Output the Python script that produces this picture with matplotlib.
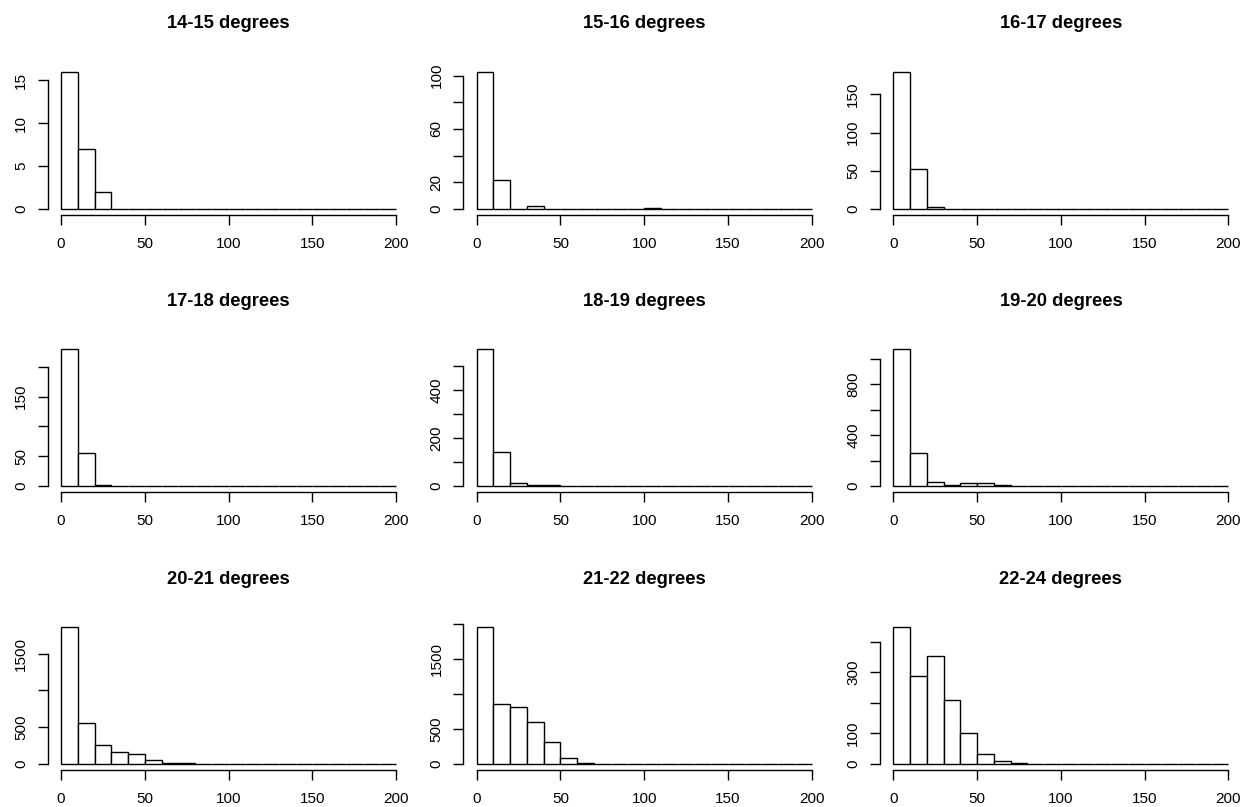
import numpy as np
import matplotlib
matplotlib.use("Agg")
from matplotlib import pyplot as plt

plt.rcParams['font.family'] = ['Liberation Sans', 'DejaVu Sans']

# histogram bins: 0-200 in steps of 10
bin_edges = np.arange(0, 201, 10)

titles = ["14-15 degrees", "15-16 degrees", "16-17 degrees",
          "17-18 degrees", "18-19 degrees", "19-20 degrees",
          "20-21 degrees", "21-22 degrees", "22-24 degrees"]

# counts per bin
c_14_15 = [16, 7, 2, 0, 0, 0, 0, 0, 0, 0, 0, 0, 0, 0, 0, 0, 0, 0, 0, 0]
c_15_16 = [103, 22, 0, 2, 0, 0, 0, 0, 0, 0, 1, 0, 0, 0, 0, 0, 0, 0, 0, 0]
c_16_17 = [180, 52, 2, 0, 0, 0, 0, 0, 0, 0, 0, 0, 0, 0, 0, 0, 0, 0, 0, 0]
c_17_18 = [231, 56, 2, 0, 0, 0, 0, 0, 0, 0, 0, 0, 0, 0, 0, 0, 0, 0, 0, 0]
c_18_19 = [572, 143, 11, 5, 5, 0, 0, 0, 0, 0, 0, 0, 0, 0, 0, 0, 0, 0, 0, 0]
c_19_20 = [1079, 262, 34, 10, 21, 21, 10, 0, 0, 0, 0, 0, 0, 0, 0, 0, 0, 0, 0, 0]
c_20_21 = [1867, 553, 258, 159, 140, 59, 14, 14, 0, 0, 0, 0, 0, 0, 0, 0, 0, 0, 0, 0]
c_21_22 = [1971, 856, 813, 603, 316, 86, 14, 0, 0, 0, 0, 0, 0, 0, 0, 0, 0, 0, 0, 0]
c_22_24 = [449, 288, 354, 210, 100, 33, 10, 4, 0, 0, 0, 0, 0, 0, 0, 0, 0, 0, 0, 0]
counts = [c_14_15, c_15_16, c_16_17, c_17_18, c_18_19, c_19_20, c_20_21, c_21_22, c_22_24]

# y ticks and which of them R managed to label
yticks = [[0, 5, 10, 15], [0, 20, 40, 60, 80, 100], [0, 50, 100, 150],
          [0, 50, 100, 150, 200], [0, 100, 200, 300, 400, 500],
          [0, 200, 400, 600, 800, 1000], [0, 500, 1000, 1500],
          [0, 500, 1000, 1500, 2000], [0, 100, 200, 300, 400]]
ylabels = [[0, 5, 10, 15], [0, 20, 60, 100], [0, 50, 100, 150],
           [0, 50, 150], [0, 200, 400], [0, 400, 800],
           [0, 500, 1500], [0, 500, 1500], [0, 100, 300]]
xticks = [0, 50, 100, 150, 200]

fig = plt.figure(figsize=(12.48, 8.07), dpi=100)
W, H = 1248.0, 807.0
col_left = [47.6, 463.3, 880.0]
row_bottom = [214.5, 491.5, 769.5]
pw, ph = 361.8, 148.5

for i in range(9):
    r, c = divmod(i, 3)
    ax = fig.add_axes([col_left[c] / W, 1 - row_bottom[r] / H, pw / W, ph / H])
    vals = counts[i]
    ax.bar(bin_edges[:-1], vals, width=10, align='edge', color='white',
           edgecolor='black', linewidth=1.0)
    top = max(vals)
    ax.set_xlim(-8, 208)
    ax.set_ylim(-0.04 * top, 1.04 * top)
    for s in ['top', 'right']:
        ax.spines[s].set_visible(False)
    ax.spines['bottom'].set_bounds(0, 200)
    ax.spines['left'].set_bounds(yticks[i][0], yticks[i][-1])
    for s in ['bottom', 'left']:
        ax.spines[s].set_linewidth(1.0)
    ax.set_xticks(xticks)
    ax.set_xticklabels([str(x) for x in xticks])
    ax.set_yticks(yticks[i])
    ax.set_yticklabels([str(y) if y in ylabels[i] else "" for y in yticks[i]],
                       rotation=90, va='center')
    ax.tick_params(axis='both', length=7.2, width=1.0, labelsize=11, direction='out')
    ax.tick_params(axis='x', pad=9)
    ax.tick_params(axis='y', pad=7)
    ax.set_title(titles[i], fontsize=13.2, fontweight='bold', pad=27)

fig.savefig("out.png", dpi=100)
